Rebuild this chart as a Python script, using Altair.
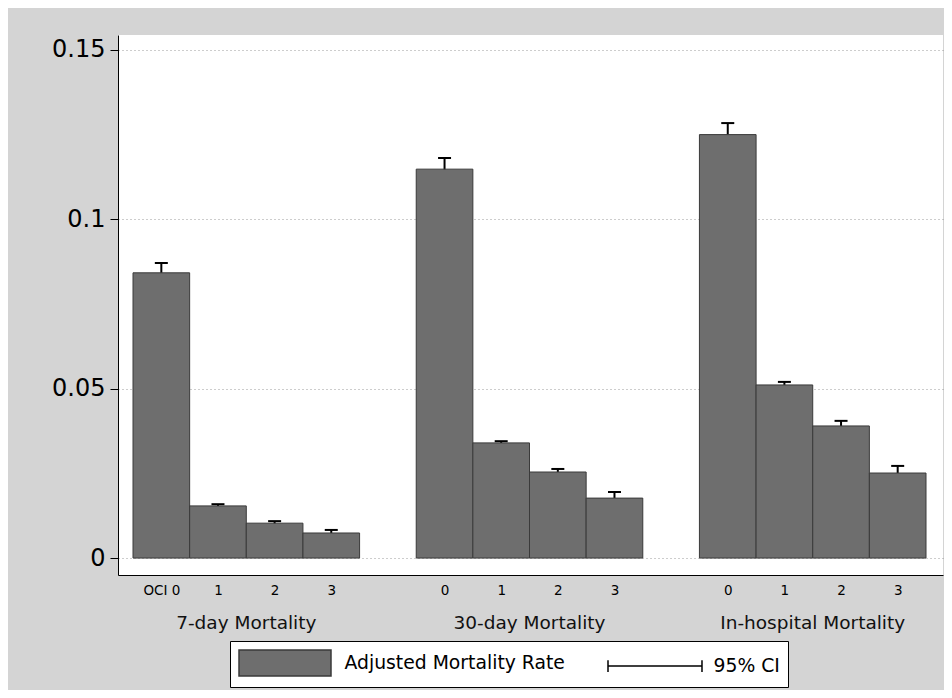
import altair as alt
import pandas as pd

# ---- data ----
outcomes = ["7-day Mortality", "30-day Mortality", "In-hospital Mortality"]
oci_levels = ["0", "1", "2", "3"]
first_tick_prefix = "OCI "
rate_7day = [0.0842, 0.0154, 0.0103, 0.0074]
upper_7day = [0.0871, 0.0159, 0.0109, 0.0083]
rate_30day = [0.1148, 0.0340, 0.0254, 0.0177]
upper_30day = [0.1181, 0.0345, 0.0263, 0.0195]
rate_inhosp = [0.1250, 0.0511, 0.0390, 0.0251]
upper_inhosp = [0.1284, 0.0520, 0.0405, 0.0272]
y_ticks = [0, 0.05, 0.1, 0.15]
legend_labels = ["Adjusted Mortality Rate", "95% CI"]

rates = [rate_7day, rate_30day, rate_inhosp]
uppers = [upper_7day, upper_30day, upper_inhosp]

SLOTS = 5  # 4 bars + 1 gap per group
rows = []
for g, outcome in enumerate(outcomes):
    for i, lvl in enumerate(oci_levels):
        pos = g * SLOTS + i
        r = rates[g][i]
        u = uppers[g][i]
        rows.append(dict(outcome=outcome, oci=lvl, pos=pos, x0=pos - 0.5,
                         x1=pos + 0.5, rate=r, upper=u, lower=2 * r - u))
df = pd.DataFrame(rows)

group_df = pd.DataFrame({
    "outcome": outcomes,
    "center": [g * SLOTS + (len(oci_levels) - 1) / 2 for g in range(len(outcomes))],
})

label_arr = [""] * (len(outcomes) * SLOTS)
for row in rows:
    label_arr[row["pos"]] = row["oci"]
label_arr[0] = first_tick_prefix + label_arr[0]
label_expr = "[" + ",".join("'%s'" % s for s in label_arr) + "][datum.value]"
positions = [row["pos"] for row in rows]

FONT = "DejaVu Sans"
BAR_FILL = "#6e6e6e"
BAR_STROKE = "#3a3a3a"

xscale = alt.Scale(domain=[-0.765, 13.8], nice=False, zero=False)
xaxis = alt.Axis(values=positions, labelExpr=label_expr, ticks=False, grid=False,
                 title=None, labelFontSize=13.5, labelPadding=8, labelFont=FONT,
                 labelColor="black", domainColor="black", labelOverlap=False)
yscale = alt.Scale(domain=[-0.005, 0.1544], nice=False, zero=False)
yaxis = alt.Axis(values=y_ticks, format="~g", title=None, tickSize=8, labelPadding=5,
                 labelFontSize=24, labelFont=FONT, labelColor="black",
                 tickColor="black", domainColor="black", gridDash=[1, 3],
                 gridColor="#9a9a9a", gridWidth=1)

base = alt.Chart(df)

ci_rule = base.mark_rule(color="black", strokeWidth=2).encode(
    x=alt.X("pos:Q", scale=xscale, axis=xaxis),
    y=alt.Y("lower:Q", scale=yscale, axis=yaxis),
    y2="upper:Q",
)

bars = base.mark_bar(fill=BAR_FILL, stroke=BAR_STROKE, strokeWidth=1, opacity=1).encode(
    x=alt.X("x0:Q", scale=xscale, axis=xaxis),
    x2="x1:Q",
    y=alt.Y("rate:Q", scale=yscale, axis=yaxis),
    y2=alt.datum(0),
)

caps = base.mark_tick(color="black", orient="horizontal", size=13, thickness=2,
                      opacity=1).encode(
    x=alt.X("pos:Q", scale=xscale, axis=xaxis),
    y=alt.Y("upper:Q", scale=yscale, axis=yaxis),
)

titles = alt.Chart(group_df).mark_text(
    font=FONT, fontSize=18.5, color="#111111", align="center", baseline="alphabetic"
).encode(
    x=alt.X("center:Q", scale=xscale, axis=xaxis),
    y=alt.value(594),
    text="outcome:N",
)

# legend symbols (custom paths)
rect_path = "M-1,-1L6.077,-1L6.077,1L-1,1Z"
ci_path = "M-1,-0.45L-1,0.45M-1,0L6.23,0M6.23,-0.45L6.23,0.45"
legend_df = pd.DataFrame({"key": legend_labels})
legend_pts = alt.Chart(legend_df).mark_point(clip=True, opacity=1).encode(
    x=alt.value(-60),
    y=alt.value(-60),
    shape=alt.Shape("key:N", title=None,
                    scale=alt.Scale(domain=legend_labels, range=[rect_path, ci_path])),
    fill=alt.Fill("key:N", title=None,
                  scale=alt.Scale(domain=legend_labels, range=[BAR_FILL, "transparent"])),
    stroke=alt.Stroke("key:N", title=None,
                      scale=alt.Scale(domain=legend_labels, range=[BAR_STROKE, "black"])),
)

chart = alt.layer(ci_rule, bars, caps, titles, legend_pts).properties(
    width=825,
    height=540,
    autosize=alt.AutoSizeParams(type="none"),
    padding={"left": 110, "top": 27, "right": 1, "bottom": 115},
    background="#d4d4d4",
).configure(font=FONT).configure_view(
    fill="white", stroke=None
).configure_legend(
    orient="none", legendX=112, legendY=606, direction="horizontal",
    padding=8, strokeColor="black", fillColor="white",
    symbolSize=676, symbolStrokeWidth=1.5, symbolOffset=0, symbolOpacity=1,
    labelOffset=78.5, labelFontSize=18.8, labelFont=FONT, labelColor="black",
    labelLimit=400, columnPadding=40,
)

chart.save("out.html", embed_options={"renderer": "svg", "actions": False})
